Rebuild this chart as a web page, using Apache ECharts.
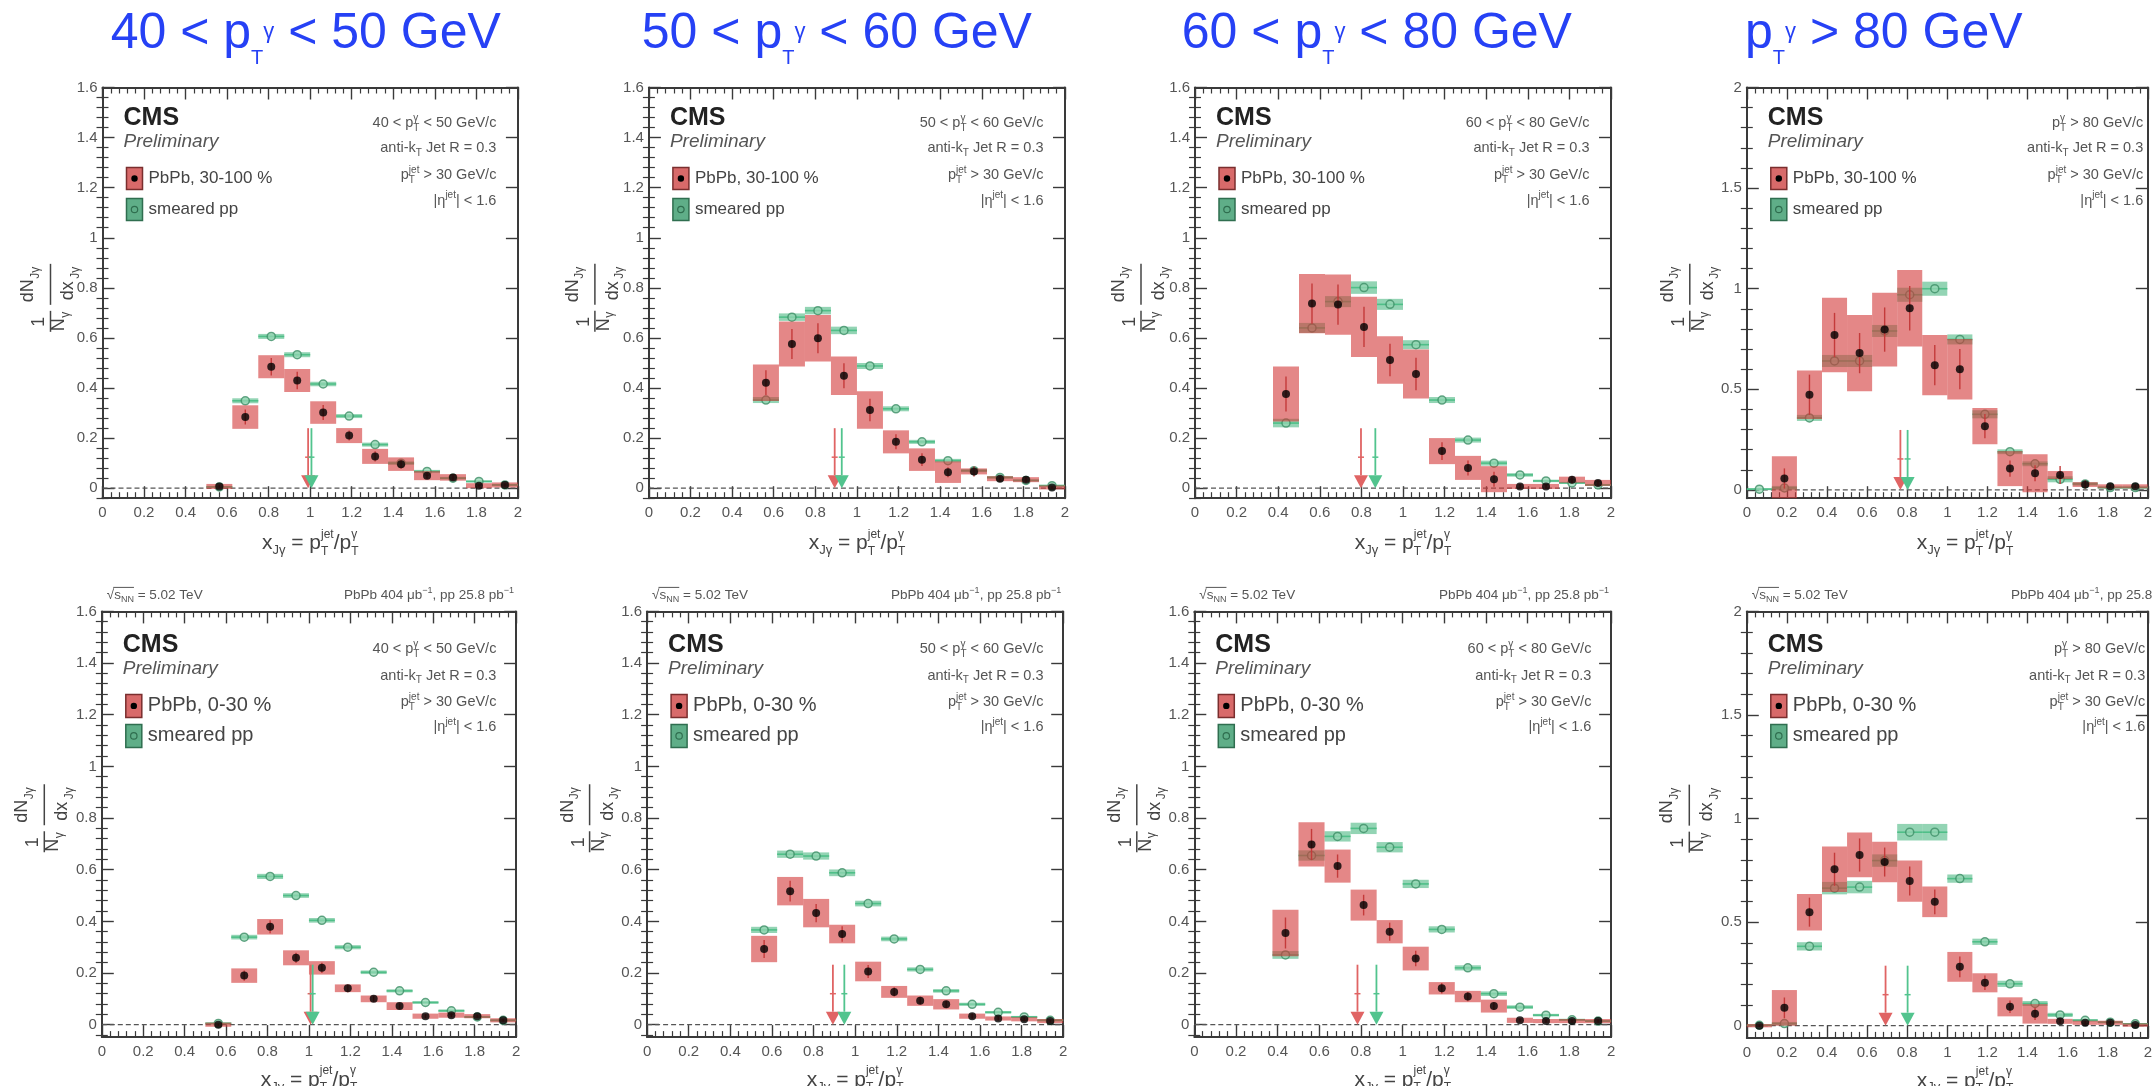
<!DOCTYPE html>
<html>
<head>
<meta charset="utf-8">
<script src="https://cdn.jsdelivr.net/npm/echarts@6/dist/echarts.min.js"></script>
<style>
  html, body { margin: 0; padding: 0; background: #fff; }
  #main { width: 2155px; height: 1086px; }
</style>
</head>
<body>
<div id="main"></div>
<script>
// ---------------- data ----------------
const binCenters = [0.0625, 0.1875, 0.3125, 0.4375, 0.5625, 0.6875, 0.8125, 0.9375,
                    1.0625, 1.1875, 1.3125, 1.4375, 1.5625, 1.6875, 1.8125, 1.9375];
const binHalfWidth = 0.0625;

const ptLow  = ['40', '50', '60', '80'];
const ptHigh = ['50', '60', '80', null];
const centralityLabels = ['30-100 %', '0-30 %'];
const jetR = '0.3', jetPtMin = '30', jetEtaMax = '1.6';
const sqrtS = '5.02', lumiPbPb = '404', lumiPp = '25.8';

const yTicksLow  = [0, 0.2, 0.4, 0.6, 0.8, 1, 1.2, 1.4, 1.6];
const yTicksHigh = [0, 0.5, 1, 1.5, 2];

const _ = null;
// PbPb 30-100 %
const pbPeri40     = [_, _, _, _, 0.007, 0.284, 0.485, 0.430, 0.302, 0.210, 0.127, 0.096, 0.050, 0.043, 0.010, 0.013];
const pbPeri40Sys  = [_, _, _, _, 0.010, 0.047, 0.046, 0.046, 0.045, 0.030, 0.030, 0.027, 0.018, 0.013, 0.010, 0.010];
const pbPeri40Stat = [_, _, _, _, 0.005, 0.030, 0.035, 0.035, 0.030, 0.020, 0.020, 0.018, 0.012, 0.012, 0.006, 0.006];
const ppPeri40     = [_, _, _, _, 0.005, 0.349, 0.606, 0.533, 0.416, 0.288, 0.174, 0.100, 0.067, 0.040, 0.027, 0.013];
const ppPeri40Sys  = [_, _, _, _, 0.004, 0.010, 0.010, 0.010, 0.009, 0.008, 0.008, 0.007, 0.006, 0.005, 0.004, 0.004];

const pbPeri50     = [_, _, _, _, 0.421, 0.576, 0.599, 0.449, 0.312, 0.185, 0.114, 0.064, 0.067, 0.038, 0.034, 0.003];
const pbPeri50Sys  = [_, _, _, _, 0.073, 0.090, 0.093, 0.077, 0.075, 0.046, 0.045, 0.043, 0.012, 0.010, 0.010, 0.008];
const pbPeri50Stat = [_, _, _, _, 0.050, 0.060, 0.060, 0.050, 0.045, 0.030, 0.025, 0.020, 0.020, 0.012, 0.012, 0.006];
const ppPeri50     = [_, _, _, _, 0.352, 0.683, 0.709, 0.630, 0.488, 0.317, 0.185, 0.110, 0.070, 0.043, 0.031, 0.010];
const ppPeri50Sys  = [_, _, _, _, 0.012, 0.015, 0.015, 0.015, 0.012, 0.010, 0.008, 0.007, 0.006, 0.005, 0.004, 0.004];

const pbPeri60     = [_, _, _, 0.376, 0.737, 0.733, 0.644, 0.512, 0.456, 0.148, 0.081, 0.036, 0.007, 0.007, 0.034, 0.021];
const pbPeri60Sys  = [_, _, _, 0.110, 0.118, 0.120, 0.120, 0.095, 0.098, 0.052, 0.048, 0.052, 0.010, 0.010, 0.012, 0.012];
const pbPeri60Stat = [_, _, _, 0.070, 0.080, 0.080, 0.080, 0.065, 0.065, 0.035, 0.030, 0.030, 0.010, 0.010, 0.015, 0.012];
const ppPeri60     = [_, _, _, 0.260, 0.640, 0.745, 0.801, 0.734, 0.573, 0.352, 0.192, 0.100, 0.053, 0.029, 0.021, 0.013];
const ppPeri60Sys  = [_, _, _, 0.017, 0.020, 0.022, 0.025, 0.022, 0.018, 0.012, 0.010, 0.010, 0.007, 0.005, 0.004, 0.004];

const pbPeri80     = [_, 0.057, 0.473, 0.770, 0.680, 0.797, 0.903, 0.620, 0.600, 0.317, 0.106, 0.083, 0.074, 0.027, 0.018, 0.018];
const pbPeri80Sys  = [_, 0.110, 0.120, 0.185, 0.190, 0.183, 0.190, 0.150, 0.150, 0.090, 0.087, 0.095, 0.020, 0.012, 0.010, 0.010];
const pbPeri80Stat = [_, 0.050, 0.100, 0.110, 0.100, 0.110, 0.110, 0.100, 0.100, 0.060, 0.040, 0.040, 0.045, 0.020, 0.010, 0.010];
const ppPeri80     = [0.004, 0.010, 0.358, 0.641, 0.641, 0.790, 0.970, 1.000, 0.748, 0.376, 0.190, 0.130, 0.053, 0.030, 0.012, 0.012];
const ppPeri80Sys  = [0.005, 0.010, 0.015, 0.030, 0.030, 0.030, 0.035, 0.035, 0.025, 0.020, 0.012, 0.012, 0.015, 0.008, 0.006, 0.006];

// PbPb 0-30 %
const pbCent40     = [_, _, _, _, 0.000, 0.190, 0.379, 0.259, 0.220, 0.141, 0.100, 0.072, 0.033, 0.037, 0.033, 0.017];
const pbCent40Sys  = [_, _, _, _, 0.008, 0.028, 0.030, 0.029, 0.026, 0.015, 0.013, 0.015, 0.010, 0.010, 0.008, 0.008];
const pbCent40Stat = [_, _, _, _, 0.004, 0.020, 0.025, 0.020, 0.020, 0.015, 0.012, 0.010, 0.008, 0.008, 0.006, 0.005];
const ppCent40     = [_, _, _, _, 0.005, 0.339, 0.574, 0.500, 0.404, 0.300, 0.203, 0.131, 0.086, 0.054, 0.030, 0.017];
const ppCent40Sys  = [_, _, _, _, 0.004, 0.009, 0.010, 0.009, 0.009, 0.008, 0.007, 0.006, 0.005, 0.005, 0.004, 0.004];

const pbCent50     = [_, _, _, _, 0.293, 0.517, 0.432, 0.351, 0.206, 0.127, 0.093, 0.079, 0.033, 0.024, 0.021, 0.014];
const pbCent50Sys  = [_, _, _, _, 0.051, 0.055, 0.055, 0.036, 0.038, 0.023, 0.020, 0.020, 0.010, 0.008, 0.008, 0.008];
const pbCent50Stat = [_, _, _, _, 0.035, 0.040, 0.035, 0.030, 0.025, 0.018, 0.015, 0.014, 0.010, 0.008, 0.007, 0.006];
const ppCent50     = [_, _, _, _, 0.367, 0.660, 0.653, 0.588, 0.469, 0.332, 0.214, 0.131, 0.079, 0.048, 0.030, 0.017];
const ppCent50Sys  = [_, _, _, _, 0.012, 0.014, 0.014, 0.013, 0.011, 0.009, 0.008, 0.007, 0.006, 0.005, 0.004, 0.004];

const pbCent60     = [_, _, _, 0.355, 0.698, 0.614, 0.463, 0.360, 0.256, 0.141, 0.109, 0.072, 0.017, 0.014, 0.014, 0.014];
const pbCent60Sys  = [_, _, _, 0.090, 0.086, 0.064, 0.060, 0.045, 0.046, 0.024, 0.022, 0.025, 0.010, 0.008, 0.008, 0.008];
const pbCent60Stat = [_, _, _, 0.060, 0.060, 0.045, 0.040, 0.035, 0.030, 0.020, 0.018, 0.015, 0.006, 0.006, 0.006, 0.006];
const ppCent60     = [_, _, _, 0.270, 0.655, 0.729, 0.760, 0.687, 0.545, 0.369, 0.220, 0.120, 0.068, 0.037, 0.019, 0.014];
const ppCent60Sys  = [_, _, _, 0.015, 0.020, 0.020, 0.022, 0.020, 0.016, 0.012, 0.010, 0.009, 0.007, 0.005, 0.004, 0.004];

const pbCent80     = [0.000, 0.086, 0.548, 0.755, 0.824, 0.790, 0.698, 0.598, 0.284, 0.207, 0.091, 0.057, 0.021, 0.014, 0.014, 0.003];
const pbCent80Sys  = [0.008, 0.086, 0.088, 0.110, 0.108, 0.098, 0.100, 0.074, 0.072, 0.046, 0.046, 0.047, 0.012, 0.010, 0.010, 0.008];
const pbCent80Stat = [0.006, 0.050, 0.070, 0.080, 0.080, 0.070, 0.070, 0.060, 0.050, 0.035, 0.030, 0.030, 0.012, 0.010, 0.010, 0.006];
const ppCent80     = [0.002, 0.010, 0.383, 0.664, 0.669, 0.797, 0.934, 0.934, 0.710, 0.405, 0.202, 0.107, 0.052, 0.026, 0.017, 0.009];
const ppCent80Sys  = [0.004, 0.008, 0.020, 0.030, 0.030, 0.030, 0.040, 0.040, 0.020, 0.015, 0.015, 0.012, 0.010, 0.006, 0.005, 0.004];

// mean x_Jgamma, shown as arrows
const meanPbPeri = [0.990, 0.893, 0.798, 0.766];
const meanPpPeri = [1.006, 0.927, 0.867, 0.802];
const meanPbCent = [1.008, 0.893, 0.783, 0.692];
const meanPpCent = [1.018, 0.948, 0.874, 0.802];

// ---------------- layout & style ----------------
const FF = '"Liberation Sans", Arial, Helvetica, sans-serif';
const FRAME = '#3a3a3a';
const PB_FILL = 'rgba(210,55,55,0.6)';
const PB_STAT = '#c43a3a';
const PP_FILL = 'rgba(40,170,105,0.5)';
const PP_LINE = '#4fbf88';
const PP_MARK = '#3d8f66';
const ARROW_RED = '#e06464';
const ARROW_GREEN = '#52c48e';
const TITLE_BLUE = '#2641f5';

const layouts = [
  { left: 102.5,  top: 87.5,  width: 415.4, height: 410.7, yMin: -0.040, yMax: 1.6, row: 0 },
  { left: 648.9,  top: 87.5,  width: 416.1, height: 410.7, yMin: -0.040, yMax: 1.6, row: 0 },
  { left: 1195.0, top: 87.5,  width: 416.0, height: 410.7, yMin: -0.040, yMax: 1.6, row: 0 },
  { left: 1746.8, top: 87.5,  width: 436.4, height: 410.7, yMin: -0.041, yMax: 2.0, row: 0 },
  { left: 101.8,  top: 611.4, width: 414.3, height: 425.7, yMin: -0.048, yMax: 1.6, row: 1 },
  { left: 647.1,  top: 611.4, width: 416.1, height: 425.7, yMin: -0.048, yMax: 1.6, row: 1 },
  { left: 1194.3, top: 611.4, width: 416.8, height: 425.7, yMin: -0.048, yMax: 1.6, row: 1 },
  { left: 1746.8, top: 611.4, width: 436.4, height: 426.5, yMin: -0.059, yMax: 2.0, row: 1 }
];
const rowStyle = [
  { cms: 30.5, prelim: 54, leg1: 80, leg2: 111, legH: 22, legFont: 17,
    info: [35.7, 60.7, 87.5, 113.2], xTitle: 45, yLabDy: 4 },
  { cms: 34, prelim: 57, leg1: 83, leg2: 113, legH: 23, legFont: 20,
    info: [37.6, 64.3, 91, 116], xTitle: 43, yLabDy: -7 }
];
const infoInset = [21.5, 21.5, 21.5, 40, 19.7, 19.7, 19.7, 38];
const yLabDx = [-52, -54, -54, -57, -57.5, -57.5, -57.5, -57.5];
const titleLeft = [110.7, 641.8, 1181.8, 1745];
const titleY = 34;

const panels = [
  { pb: pbPeri40, pbSys: pbPeri40Sys, pbStat: pbPeri40Stat, pp: ppPeri40, ppSys: ppPeri40Sys, mPb: meanPbPeri[0], mPp: meanPpPeri[0] },
  { pb: pbPeri50, pbSys: pbPeri50Sys, pbStat: pbPeri50Stat, pp: ppPeri50, ppSys: ppPeri50Sys, mPb: meanPbPeri[1], mPp: meanPpPeri[1] },
  { pb: pbPeri60, pbSys: pbPeri60Sys, pbStat: pbPeri60Stat, pp: ppPeri60, ppSys: ppPeri60Sys, mPb: meanPbPeri[2], mPp: meanPpPeri[2] },
  { pb: pbPeri80, pbSys: pbPeri80Sys, pbStat: pbPeri80Stat, pp: ppPeri80, ppSys: ppPeri80Sys, mPb: meanPbPeri[3], mPp: meanPpPeri[3] },
  { pb: pbCent40, pbSys: pbCent40Sys, pbStat: pbCent40Stat, pp: ppCent40, ppSys: ppCent40Sys, mPb: meanPbCent[0], mPp: meanPpCent[0] },
  { pb: pbCent50, pbSys: pbCent50Sys, pbStat: pbCent50Stat, pp: ppCent50, ppSys: ppCent50Sys, mPb: meanPbCent[1], mPp: meanPpCent[1] },
  { pb: pbCent60, pbSys: pbCent60Sys, pbStat: pbCent60Stat, pp: ppCent60, ppSys: ppCent60Sys, mPb: meanPbCent[2], mPp: meanPpCent[2] },
  { pb: pbCent80, pbSys: pbCent80Sys, pbStat: pbCent80Stat, pp: ppCent80, ppSys: ppCent80Sys, mPb: meanPbCent[3], mPp: meanPpCent[3] }
];

// ---------------- text helpers ----------------
const mctx = document.createElement('canvas').getContext('2d');
function tw(t, size, weight, style) {
  mctx.font = (style || 'normal') + ' ' + (weight || 'normal') + ' ' + size + 'px ' + FF;
  return mctx.measureText(t).width;
}
function txt(t, x, y, size, fill, opts) {
  opts = opts || {};
  return {
    type: 'text', x: x, y: y, z: 20, silent: true,
    style: { text: t, fontSize: size, fontFamily: FF, fontWeight: opts.weight || 'normal',
             fontStyle: opts.style || 'normal', fill: fill, align: opts.align || 'left', verticalAlign: 'middle' }
  };
}
// lays out a run of text pieces with sub/superscripts
function rich(parts, x, y, align, fill) {
  let cx = 0;
  const items = [];
  parts.forEach(function (p) {
    if (p.t !== undefined) {
      items.push({ t: p.t, x: cx, dy: p.dy || 0, size: p.size, weight: p.weight, style: p.style });
      cx += tw(p.t, p.size, p.weight, p.style);
    } else {
      let w = 0;
      if (p.sup !== undefined) { items.push({ t: p.sup, x: cx, dy: p.supDy, size: p.size }); w = Math.max(w, tw(p.sup, p.size)); }
      if (p.sub !== undefined) { items.push({ t: p.sub, x: cx, dy: p.subDy, size: p.size }); w = Math.max(w, tw(p.sub, p.size)); }
      cx += w;
    }
  });
  const x0 = align === 'right' ? x - cx : (align === 'center' ? x - cx / 2 : x);
  return {
    els: items.map(function (it) { return txt(it.t, x0 + it.x, y + it.dy, it.size, fill, { weight: it.weight, style: it.style }); }),
    width: cx, x0: x0
  };
}

// ---------------- renderers ----------------
function clipToGrid(r, cs) {
  return echarts.graphic.clipRectByRect(r, { x: cs.x, y: cs.y, width: cs.width, height: cs.height });
}
function ppRender(params, api) {
  const x = api.value(0), y = api.value(1), sys = api.value(2);
  const a = api.coord([x - binHalfWidth, y + sys]);
  const b = api.coord([x + binHalfWidth, y - sys]);
  const c = api.coord([x, y]);
  const kids = [];
  const box = clipToGrid({ x: a[0], y: a[1], width: b[0] - a[0], height: b[1] - a[1] }, params.coordSys);
  if (box) kids.push({ type: 'rect', shape: box, style: { fill: PP_FILL } });
  kids.push({ type: 'line', shape: { x1: a[0], y1: c[1], x2: b[0], y2: c[1] }, style: { stroke: PP_LINE, lineWidth: 1.6 } });
  return { type: 'group', children: kids };
}
function pbRender(params, api) {
  const x = api.value(0), y = api.value(1), sys = api.value(2), stat = api.value(3);
  const a = api.coord([x - binHalfWidth, y + sys]);
  const b = api.coord([x + binHalfWidth, y - sys]);
  const kids = [];
  const box = clipToGrid({ x: a[0], y: a[1], width: b[0] - a[0], height: b[1] - a[1] }, params.coordSys);
  if (box) kids.push({ type: 'rect', shape: box, style: { fill: PB_FILL } });
  const s0 = api.coord([x, y - stat]), s1 = api.coord([x, y + stat]);
  kids.push({ type: 'line', shape: { x1: s0[0], y1: s0[1], x2: s1[0], y2: s1[1] }, style: { stroke: PB_STAT, lineWidth: 1.4 } });
  return { type: 'group', children: kids };
}
function arrowRender(params, api) {
  const x = api.value(0), kind = api.value(1);
  const base = api.coord([x, 0]);
  const color = kind === 0 ? ARROW_RED : ARROW_GREEN;
  const len = 60, head = 13, hw = 7;
  return {
    type: 'group', children: [
      { type: 'line', shape: { x1: base[0], y1: base[1] - len, x2: base[0], y2: base[1] - head }, style: { stroke: color, lineWidth: 1.8 } },
      { type: 'polygon', shape: { points: [[base[0] - hw, base[1] - head], [base[0] + hw, base[1] - head], [base[0], base[1]]] }, style: { fill: color } },
      { type: 'line', shape: { x1: base[0] - 3, y1: base[1] - 31, x2: base[0] + 3, y2: base[1] - 31 }, style: { stroke: color, lineWidth: 1.5 } }
    ]
  };
}

// ---------------- build option ----------------
const grids = [], xAxes = [], yAxes = [], series = [], graphics = [];
const fmt = function (v) { return String(parseFloat(Number(v).toFixed(2))); };

function rowsOf(vals, a, b) {
  const out = [];
  binCenters.forEach(function (x, k) {
    if (vals[k] !== null) out.push([x, vals[k], a ? a[k] : 0, b ? b[k] : 0]);
  });
  return out;
}

layouts.forEach(function (g, i) {
  const P = panels[i];
  const rs = rowStyle[g.row];
  const L = g.left, T = g.top, R = g.left + g.width, B = g.top + g.height;
  grids.push({ left: L, top: T, width: g.width, height: g.height, containLabel: false });

  const xBase = {
    gridIndex: i, type: 'value', min: 0, max: 2, interval: 0.2,
    axisLine: { show: true, onZero: false, lineStyle: { color: FRAME, width: 2 } },
    axisTick: { show: true, inside: true, length: 12, lineStyle: { color: FRAME, width: 1.4 } },
    minorTick: { show: true, splitNumber: 5, length: 6, lineStyle: { color: FRAME, width: 1.2 } },
    splitLine: { show: false }, minorSplitLine: { show: false }
  };
  xAxes.push(Object.assign({}, xBase, {
    position: 'bottom',
    axisLabel: { show: true, color: '#555', fontSize: 15, fontFamily: FF, margin: 7, formatter: fmt }
  }));
  xAxes.push(Object.assign({}, xBase, { position: 'top', axisLabel: { show: false } }));

  const major = g.yMax > 1.8 ? yTicksHigh : yTicksLow;
  const minorStep = g.yMax > 1.8 ? 0.1 : 0.04;
  const minor = [];
  for (let k = Math.ceil(g.yMin / minorStep - 1e-9); k * minorStep <= g.yMax + 1e-9; k++) {
    const v = +(k * minorStep).toFixed(4);
    if (!major.some(function (m) { return Math.abs(m - v) < 1e-6; })) minor.push(v);
  }
  ['left', 'right'].forEach(function (pos) {
    yAxes.push({
      gridIndex: i, type: 'value', position: pos, min: g.yMin, max: g.yMax,
      axisLine: { show: true, onZero: false, lineStyle: { color: FRAME, width: 2 } },
      axisTick: { show: true, inside: true, length: 12, customValues: major, lineStyle: { color: FRAME, width: 1.4 } },
      axisLabel: pos === 'left'
        ? { show: true, customValues: major, color: '#555', fontSize: 15, fontFamily: FF, margin: 5, formatter: fmt }
        : { show: false },
      splitLine: { show: false }
    });
    yAxes.push({
      gridIndex: i, type: 'value', position: pos, min: g.yMin, max: g.yMax,
      axisLine: { show: false },
      axisTick: { show: true, inside: true, length: 6, customValues: minor, lineStyle: { color: FRAME, width: 1.2 } },
      axisLabel: { show: false },
      splitLine: { show: false }
    });
  });

  const xi = 2 * i, yi = 4 * i;
  series.push({
    type: 'line', xAxisIndex: xi, yAxisIndex: yi, data: [[0, 0], [2, 0]], symbol: 'none', silent: true, z: 1,
    lineStyle: { color: '#555', width: 1.3, type: [5, 3] }
  });
  series.push({ type: 'custom', xAxisIndex: xi, yAxisIndex: yi, data: rowsOf(P.pp, P.ppSys), renderItem: ppRender, z: 2, silent: true });
  series.push({
    type: 'scatter', xAxisIndex: xi, yAxisIndex: yi, data: rowsOf(P.pp).map(function (r) { return [r[0], r[1]]; }),
    symbol: 'circle', symbolSize: 8, silent: true, z: 3,
    itemStyle: { color: 'rgba(150,215,180,0.9)', borderColor: PP_MARK, borderWidth: 1.5 }
  });
  series.push({ type: 'custom', xAxisIndex: xi, yAxisIndex: yi, data: rowsOf(P.pb, P.pbSys, P.pbStat), renderItem: pbRender, z: 4, silent: true });
  series.push({
    type: 'scatter', xAxisIndex: xi, yAxisIndex: yi, data: rowsOf(P.pb).map(function (r) { return [r[0], r[1]]; }),
    symbol: 'circle', symbolSize: 8, silent: true, z: 5, itemStyle: { color: '#000' }
  });
  series.push({ type: 'custom', xAxisIndex: xi, yAxisIndex: yi, data: [[P.mPb, 0], [P.mPp, 1]], renderItem: arrowRender, z: 6, silent: true });

  // CMS labels
  graphics.push(txt('CMS', L + 21, T + rs.cms, 25, '#222', { weight: 'bold' }));
  graphics.push(txt('Preliminary', L + 21, T + rs.prelim, 19, '#555', { style: 'italic' }));

  // legend
  const lx = L + 24, lw = 16;
  graphics.push({ type: 'rect', z: 20, silent: true, shape: { x: lx, y: T + rs.leg1, width: lw, height: rs.legH },
                  style: { fill: '#d86a6a', stroke: '#7a2e2e', lineWidth: 1.5 } });
  graphics.push({ type: 'circle', z: 21, silent: true, shape: { cx: lx + lw / 2, cy: T + rs.leg1 + rs.legH / 2, r: 3.2 }, style: { fill: '#000' } });
  graphics.push(txt('PbPb, ' + centralityLabels[g.row], L + 46, T + rs.leg1 + rs.legH / 2, rs.legFont, '#444'));
  graphics.push({ type: 'rect', z: 20, silent: true, shape: { x: lx, y: T + rs.leg2, width: lw, height: rs.legH },
                  style: { fill: '#5fae88', stroke: '#2f6e4f', lineWidth: 1.5 } });
  graphics.push({ type: 'circle', z: 21, silent: true, shape: { cx: lx + lw / 2, cy: T + rs.leg2 + rs.legH / 2, r: 3.2 },
                  style: { fill: 'none', stroke: '#2f6e4f', lineWidth: 1.2 } });
  graphics.push(txt('smeared pp', L + 46, T + rs.leg2 + rs.legH / 2, rs.legFont, '#444'));

  // selection info, right aligned
  const S = 14.5, s = 10, c = '#555';
  const k = i % 4;
  const l1 = ptHigh[k]
    ? [{ t: ptLow[k] + ' < p', size: S }, { sup: 'γ', sub: 'T', size: s, supDy: -5, subDy: 5 }, { t: ' < ' + ptHigh[k] + ' GeV/c', size: S }]
    : [{ t: 'p', size: S }, { sup: 'γ', sub: 'T', size: s, supDy: -5, subDy: 5 }, { t: ' > ' + ptLow[k] + ' GeV/c', size: S }];
  const l2 = [{ t: 'anti-k', size: S }, { sub: 'T', size: s, subDy: 5 }, { t: ' Jet R = ' + jetR, size: S }];
  const l3 = [{ t: 'p', size: S }, { sup: 'jet', sub: 'T', size: s, supDy: -5, subDy: 5 }, { t: ' > ' + jetPtMin + ' GeV/c', size: S }];
  const l4 = [{ t: '|η', size: S }, { sup: 'jet', size: s, supDy: -5 }, { t: '| < ' + jetEtaMax, size: S }];
  [l1, l2, l3, l4].forEach(function (parts, j) {
    rich(parts, R - infoInset[i], T + rs.info[j], 'right', c).els.forEach(function (e) { graphics.push(e); });
  });

  // header above the frame (lower row)
  if (g.row === 1) {
    const hs = 13.5, hsub = 9, hy = T - 16;
    const left = rich([{ t: '√', size: hs }, { t: 's', size: hs }, { sub: 'NN', size: hsub, subDy: 4 }, { t: ' = ' + sqrtS + ' TeV', size: hs }],
                      L + 5, hy, 'left', c);
    left.els.forEach(function (e) { graphics.push(e); });
    const ox0 = left.x0 + tw('√', hs), ox1 = ox0 + tw('s', hs) + tw('NN', hsub);
    graphics.push({ type: 'line', z: 20, silent: true, shape: { x1: ox0 - 1, y1: hy - 8, x2: ox1, y2: hy - 8 }, style: { stroke: c, lineWidth: 1 } });
    rich([{ t: 'PbPb ' + lumiPbPb + ' μb', size: hs }, { sup: '−1', size: hsub, supDy: -5 },
          { t: ', pp ' + lumiPp + ' pb', size: hs }, { sup: '−1', size: hsub, supDy: -5 }],
         R - 2, hy, 'right', c).els.forEach(function (e) { graphics.push(e); });
  }

  // x-axis title
  rich([{ t: 'x', size: 21 }, { sub: 'Jγ', size: 13, subDy: 7 }, { t: ' = p', size: 21 },
        { sup: 'jet', sub: 'T', size: 12, supDy: -9, subDy: 8 }, { t: '/p', size: 21 },
        { sup: 'γ', sub: 'T', size: 12, supDy: -9, subDy: 8 }],
       L + g.width / 2, B + rs.xTitle, 'center', '#444').els.forEach(function (e) { graphics.push(e); });

  // y-axis title, rotated
  const yc = '#444';
  graphics.push({
    type: 'group', x: L + yLabDx[i], y: T + g.height / 2 + rs.yLabDy, rotation: Math.PI / 2, z: 20, silent: true,
    children: [
      txt('1', -25, -11, 18, yc, { align: 'center' }),
      { type: 'line', shape: { x1: -35, y1: 0, x2: -14, y2: 0 }, style: { stroke: yc, lineWidth: 1.5 } },
      txt('N', -28, 9, 18, yc, { align: 'center' }),
      txt('γ', -18, 15, 12, yc, { align: 'center' }),
      txt('dN', 6, -22, 18, yc, { align: 'center' }),
      txt('Jγ', 24, -15, 12, yc, { align: 'center' }),
      { type: 'line', shape: { x1: -8, y1: 0, x2: 33, y2: 0 }, style: { stroke: yc, lineWidth: 1.5 } },
      txt('dx', 6, 18, 18, yc, { align: 'center' }),
      txt('Jγ', 24, 25, 12, yc, { align: 'center' })
    ]
  });
});

// bin titles across the top
titleLeft.forEach(function (x, k) {
  const S = 50;
  const parts = [];
  parts.push({ t: ptHigh[k] ? ptLow[k] + ' < p' : 'p', size: S });
  parts.push({ sub: 'T', size: 20, subDy: 24 });
  parts.push({ sup: 'γ', size: 22, supDy: -2 });
  parts.push({ t: ptHigh[k] ? ' < ' + ptHigh[k] + ' GeV' : ' > ' + ptLow[k] + ' GeV', size: S });
  rich(parts, x, titleY, 'left', TITLE_BLUE).els.forEach(function (e) { graphics.push(e); });
});

const chart = echarts.init(document.getElementById('main'), null, { renderer: 'canvas' });
chart.setOption({
  backgroundColor: '#fff',
  animation: false,
  grid: grids,
  xAxis: xAxes,
  yAxis: yAxes,
  series: series,
  graphic: { elements: graphics }
});
</script>
</body>
</html>
